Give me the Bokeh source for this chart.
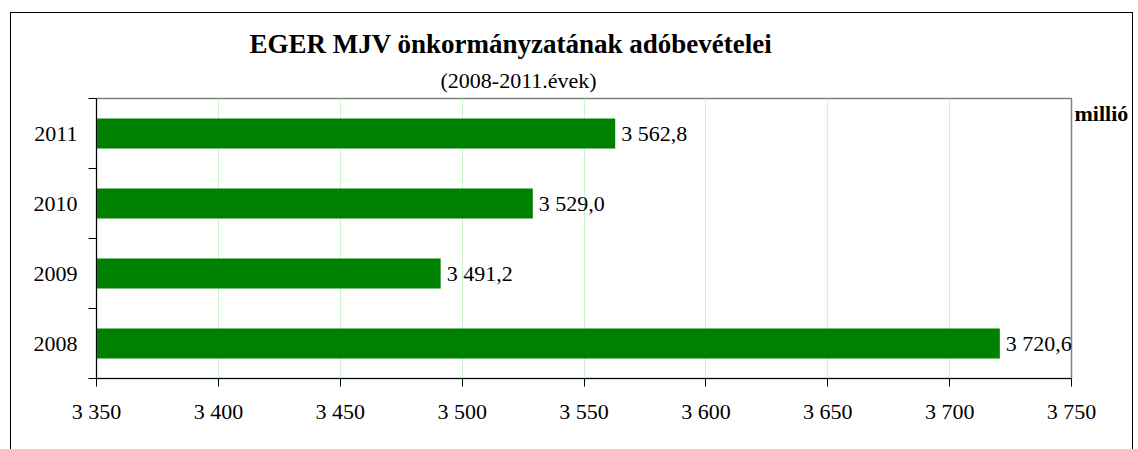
from bokeh.plotting import figure
from bokeh.models import (Range1d, FixedTicker, ColumnDataSource, LabelSet, Title,
                          LinearAxis, InlineStyleSheet)
from bokeh.embed import file_html
from bokeh.resources import INLINE

# ---- data ----
years = ["2008", "2009", "2010", "2011"]
values = [3720.6, 3491.2, 3529.0, 3562.8]
x_ticks = [3350, 3400, 3450, 3500, 3550, 3600, 3650, 3700, 3750]
title_text = "EGER MJV önkormányzatának adóbevételei"
subtitle_text = "(2008-2011.évek)"
unit_text = "millió"

def hu(v, dec=None):
    if dec is None:
        return f"{v:,.0f}".replace(",", " ")
    return f"{v:,.{dec}f}".replace(",", " ").replace(".", ",")

FONT = "Liberation Serif"
W, H = 1138, 449
FL, FR, FT, FB = 96, 1071, 98, 378  # frame in px

XMIN, XMAX = x_ticks[0], x_ticks[-1]
YMIN, YMAX = 0, len(years)

p = figure(width=W, height=H, output_backend="svg", toolbar_location=None,
           x_range=Range1d(XMIN, XMAX), y_range=Range1d(YMIN, YMAX),
           min_border_left=FL, min_border_right=W - FR,
           min_border_top=FT, min_border_bottom=H - FB)
p.outline_line_color = "#808080"
p.outline_line_width = 1.5
p.background_fill_color = "white"
p.border_fill_color = "white"

centers = [i + 0.5 for i in range(len(years))]
src = ColumnDataSource(dict(y=centers, right=values,
                            label=[hu(v, 1) for v in values]))
p.hbar(y="y", right="right", left=XMIN, height=0.43, source=src,
       fill_color="#008000", line_color=None)

p.add_layout(LabelSet(x="right", y="y", text="label", source=src, x_offset=6,
                      text_font=FONT, text_font_size="22px",
                      text_baseline="middle", text_color="black"))

# axes
xa = p.xaxis[0]
xa.ticker = FixedTicker(ticks=x_ticks)
xa.major_label_overrides = {t: hu(t) for t in x_ticks}
xa.major_label_text_font = FONT
xa.major_label_text_font_size = "22px"
xa.major_label_text_color = "black"
xa.major_tick_out = 8
xa.major_tick_in = 0
xa.minor_tick_out = 0
xa.minor_tick_in = 0
xa.axis_line_color = "black"
xa.major_tick_line_color = "black"
xa.major_label_standoff = 12

ya = p.yaxis[0]
ya.ticker = FixedTicker(ticks=centers, minor_ticks=list(range(len(years) + 1)))
ya.major_label_overrides = {c: y for c, y in zip(centers, years)}
ya.major_label_text_font = FONT
ya.major_label_text_font_size = "22px"
ya.major_label_text_color = "black"
ya.major_tick_out = 0
ya.major_tick_in = 0
ya.minor_tick_out = 8
ya.minor_tick_in = 0
ya.minor_tick_line_color = "black"
ya.axis_line_color = "black"
ya.major_label_standoff = 11

p.xgrid.ticker = FixedTicker(ticks=x_ticks)
p.xgrid.grid_line_color = "#ccf5cc"
p.xgrid.grid_line_width = 1
p.ygrid.visible = False

# unit label on the right, near the top
unit_y = YMAX - (113 - FT) / (FB - FT) * (YMAX - YMIN)
ra = LinearAxis(ticker=FixedTicker(ticks=[unit_y]),
                major_label_overrides={unit_y: unit_text},
                major_label_text_font=FONT, major_label_text_font_size="22px",
                major_label_text_font_style="bold", major_label_text_color="black",
                major_tick_out=0, major_tick_in=0, minor_tick_out=0, minor_tick_in=0,
                axis_line_color=None, major_label_standoff=3)
p.add_layout(ra, "right")

# titles (first added is nearest the frame)
p.add_layout(Title(text=subtitle_text, align="left", offset=440 - FL,
                   text_font=FONT, text_font_size="22px", text_font_style="normal",
                   text_color="black", standoff=11), "above")
p.add_layout(Title(text=title_text, align="left", offset=249 - FL,
                   text_font=FONT, text_font_size="27px", text_font_style="bold",
                   text_color="black", standoff=3), "above")

# outer chart border
p.stylesheets = [InlineStyleSheet(css="""
:host { position: relative; overflow: hidden; }
:host::after { content: ''; position: absolute; left: 10px; top: 12px;
  width: 1123px; height: 1000px; border: 1.5px solid black;
  box-sizing: border-box; pointer-events: none; z-index: 10; }
""")]

open("out.html", "w").write(file_html(p, INLINE))
